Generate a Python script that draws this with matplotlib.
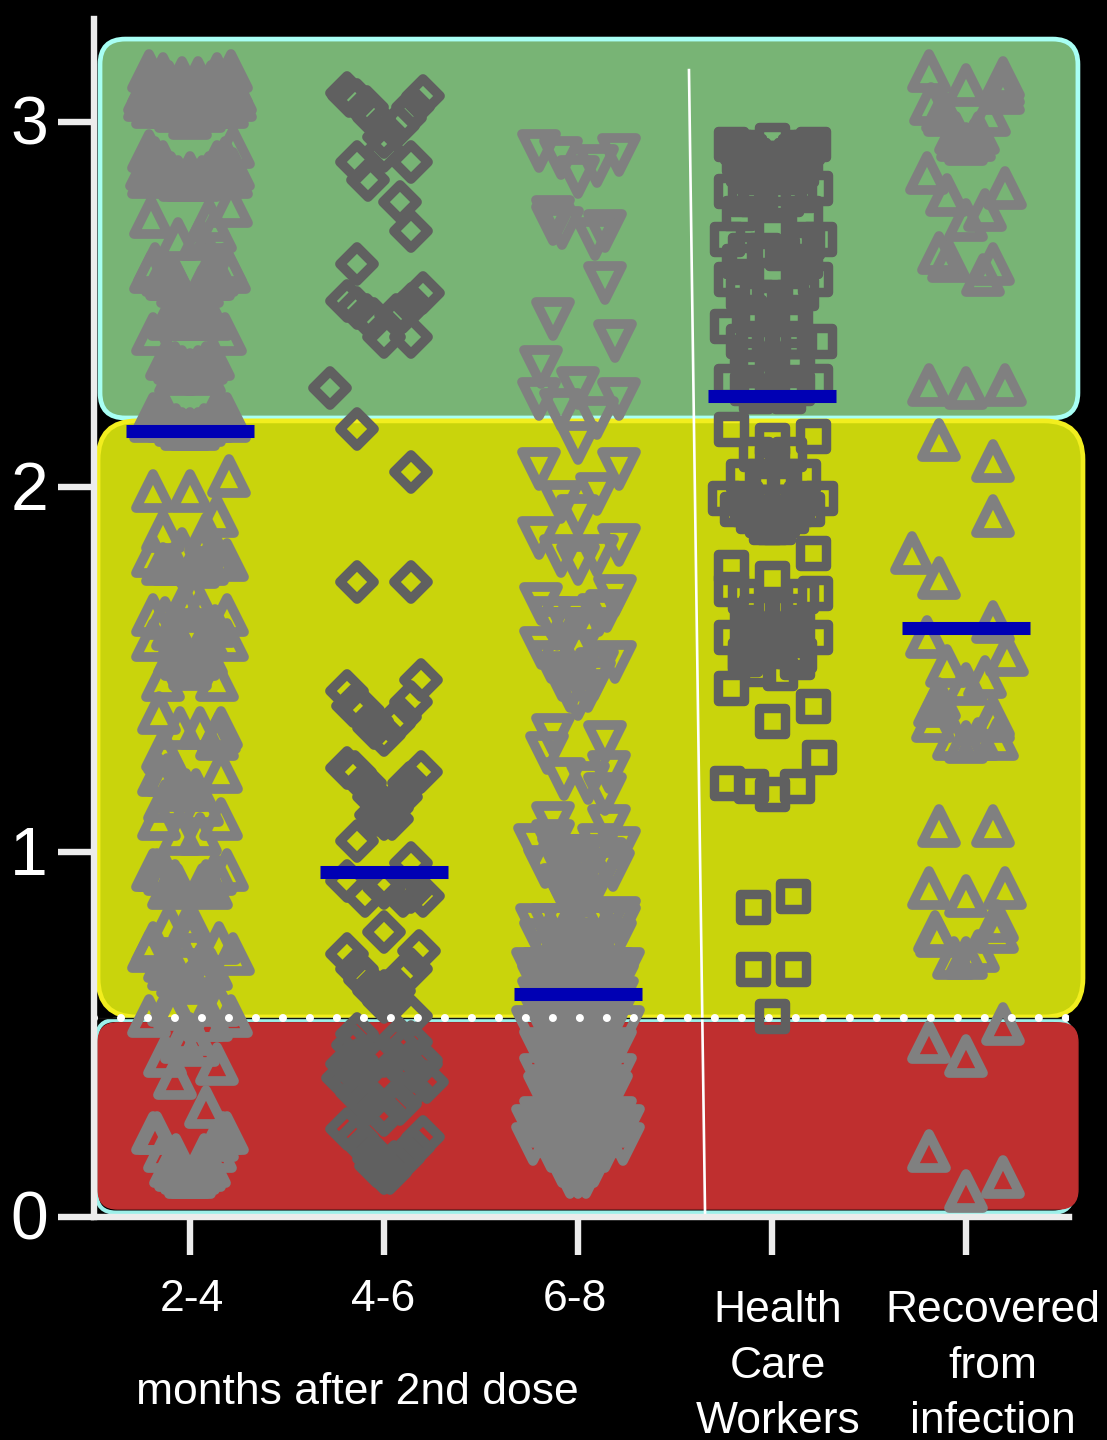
import matplotlib
matplotlib.use('Agg')
from matplotlib import pyplot as plt
from matplotlib.markers import MarkerStyle
from matplotlib.patches import FancyBboxPatch
from matplotlib.transforms import ScaledTranslation

plt.rcParams['font.family'] = ['Liberation Sans', 'DejaVu Sans']

# swarm values and horizontal offsets, one list pair per group
g1_val = [3.08,3.08,3.06,3.06,3.14,3.14,3.10,3.10,3.09,3.09,3.06,3.06,3.04,3.04,3.13,3.13,3.09,3.09,3.05,3.05,
    3.11,3.11,3.07,3.07,3.04,3.04,3.12,3.12,3.08,3.08,3.05,3.05,3.03,3.03,3.01,
    2.92,2.93,2.90,2.90,2.89,2.89,2.87,2.87,2.85,2.85,2.86,2.86,2.85,2.85,2.84,2.84,2.86,2.84,2.84,
    2.74,2.77,2.73,2.68,2.68,2.70,
    2.61,2.61,2.59,2.59,2.58,2.58,2.57,2.57,2.57,2.57,2.55,2.55,2.57,2.57,
    2.42,2.42,2.47,2.47,2.48,2.46,2.46,2.46,2.46,
    2.35,2.35,2.34,2.34,2.33,2.33,2.32,2.31,2.31,
    2.21,2.21,2.20,2.20,2.18,2.18,2.17,2.17,2.16,2.16,2.16,2.18,2.18,
    1.99,1.99,2.03,1.88,1.92,
    1.81,1.79,1.79,1.80,1.81,1.79,1.83,1.78,1.87,1.83,
    1.65,1.58,1.64,1.61,1.58,1.68,1.70,1.65,1.58,1.62,1.59,1.66,
    1.54,1.54,1.53,1.53,1.50,1.52,1.47,1.47,
    1.38,1.34,1.34,1.34,1.33,
    1.28,1.27,1.31,1.22,1.21,1.21,1.18,1.17,1.17,
    1.14,1.13,1.09,1.09,1.05,1.05,
    .95,.95,.95,.94,.94,.92,.92,.91,.91,.90,.90,
    .80,.81,.77,.73,.75,.72,.75,.70,.72,.69,.68,.66,.66,.64,.68,
    .55,.55,.58,.58,.54,.54,.57,
    .44,.42,.48,.47,.50,
    .38,.30,.23,.23,.23,.23,.21,.18,.18,.17,.17,.14,.14,.13,.13,.12,.12,.11,.11,.11]
g1_off = [-.23,.23,-.23,.23,-.21,.21,-.21,.21,-.19,.19,-.19,.19,-.19,.19,-.14,.14,-.14,.14,-.14,.14,
    -.11,.11,-.11,.11,-.11,.11,-.04,.04,-.04,.04,-.07,.07,-.07,.07,0,
    -.21,.22,-.18,.18,-.14,.14,-.22,.22,-.21,.21,-.10,.10,-.06,.06,-.02,.02,0,-.05,.05,
    -.20,.21,.10,-.06,.05,.13,
    -.18,.18,-.20,.20,-.14,.14,-.12,.12,-.08,.08,-.06,.06,-.11,.11,
    -.19,.18,-.07,.07,0,-.11,.11,-.03,.03,
    -.12,.12,-.08,.08,-.04,.04,0,-.07,.07,
    -.14,.14,-.19,.19,-.12,.12,-.07,.07,0,-.04,.04,-.20,.20,
    -.19,0,.20,-.14,.14,
    -.19,-.14,-.09,.19,.13,.09,.06,.04,.08,-.04,
    -.19,-.19,-.13,-.09,-.06,-.03,.02,.19,.19,.13,.08,.05,
    -.08,.08,-.04,.04,0,0,-.14,.14,
    -.16,-.05,.05,.16,.15,
    -.14,-.13,.14,.16,-.16,-.12,-.06,.03,-.02,
    -.13,.06,-.16,.16,-.05,.05,
    -.19,-.17,.19,-.13,.13,-.08,.08,-.06,.06,-.11,.11,
    -.11,0,0,-.21,-.19,.22,.15,-.13,-.04,.05,-.11,-.06,.06,0,.11,
    -.21,.21,-.11,.15,.07,.11,-.08,
    -.13,.14,-.04,.04,0,
    -.08,.08,-.19,-.17,.19,.17,.14,-.13,.13,-.07,.07,-.10,.10,-.07,.07,-.04,.04,0,-.02,.02]

g2_val = [3.08,3.07,3.06,3.04,3.01,2.96,2.99,3.01,3.04,3.07,2.89,2.89,2.84,2.92,2.78,2.70,2.61,
    2.51,2.49,2.47,2.46,2.41,2.41,2.53,2.50,2.48,2.47,2.27,2.16,2.04,1.74,1.74,
    1.44,1.40,1.39,1.36,1.34,1.32,1.35,1.37,1.41,1.47,
    1.23,1.22,1.19,1.15,1.12,1.10,1.09,1.12,1.15,1.19,1.22,1.09,
    1.03,.97,.92,.88,.90,.88,.88,.89,.78,
    .72,.73,.68,.65,.62,.59,.62,.66,.68,.62,.55,.50,
    .38,.37,.47,.48,.48,.44,.43,.45,.43,.37,.40,.38,.34,.35,.31,.29,.31,.28,.42,.42,.40,.41,
    .24,.22,.19,.22,.19,.16,.16,.12,.15,.14,.14,.12]
g2_off = [-.19,-.18,-.14,-.09,-.05,0,.07,.11,.15,.20,-.14,.14,-.08,0,.08,.14,-.14,
    -.19,-.14,-.09,-.05,0,.14,.20,.14,.10,.06,-.28,-.14,.14,-.14,.14,
    -.19,-.16,-.11,-.06,-.05,0,.05,.08,.14,.19,
    -.19,-.15,-.10,-.05,0,-.04,0,.04,.09,.13,.19,.04,
    -.14,.14,-.19,-.10,0,.10,.20,.14,0,
    -.19,.18,-.14,-.10,-.05,0,.05,.10,.14,0,.14,-.14,
    -.21,.22,-.16,.14,.06,0,-.14,-.05,.19,-.17,.15,0,-.14,.14,-.08,0,.08,0,-.19,.19,-.10,.08,
    -.19,-.14,-.09,.20,.15,.10,-.05,0,.05,-.04,0,.03]

g3_val = [2.92,2.90,2.85,2.88,2.91,2.74,2.72,2.71,2.68,2.70,2.56,2.46,2.40,2.33,2.27,2.24,2.24,2.21,2.19,2.12,
    2.05,2.05,1.96,1.98,1.92,1.86,1.84,1.81,1.81,1.79,
    1.68,1.70,1.64,1.61,1.65,1.66,1.64,1.61,1.61,1.55,1.56,1.52,1.52,1.49,1.50,1.48,1.44,1.44,1.42,1.47,1.47,
    1.32,1.30,1.27,1.20,1.19,1.22,1.16,
    1.08,1.07,1.02,1.01,.96,.95,1.03,.99,.95,.99,.95,.99,1.02,.98,.91,.91,.97,.88,.90,.88,.87,
    .80,.80,.80,.80,.80,.80,.82,
    .76,.76,.76,.76,.76,.76,.76,
    .72,.72,.72,.72,.72,.72,
    .68,.68,.68,.68,
    .66,.66,.66,.66,.66,
    .64,.64,.64,.64,.64,.64,.64,.64,
    .59,.59,.59,.59,.59,.59,
    .57,.57,.52,.52,
    .50,.50,.50,.50,.50,
    .46,.46,.46,.46,.46,.46,
    .42,.42,.42,.42,.39,.39,
    .36,.36,.36,.36,.36,
    .32,.32,.32,.32,.29,.29,
    .25,.25,.20,.20,.22,.22,.21,.21,.20,.20,.18,.18,.18,.18,.17,.17,
    .14,.14,.14,.14,.11,.11,.11,
    .55,.55,.55,.55,.55,.60,.60,.60,.60,.60,.45,.45,.45,.40,.40,.40,.40,
    .34,.34,.34,.30,.30,.30,.27,.27,.27,.27,.27,.27,.25,.25,.25,.25,.25,.25,.25,.22,.22,.22,.22,.22]
g3_off = [-.20,-.09,0,.10,.21,-.13,-.13,-.08,.09,.14,.14,-.13,.19,-.19,0,-.20,.21,-.09,.10,0,
    -.20,.21,-.09,.10,0,-.20,.21,-.09,.10,0,
    -.19,.19,-.14,-.11,.11,.15,0,-.04,.05,0,-.19,.19,-.14,-.09,.10,0,-.04,.05,0,-.08,.08,
    -.13,.14,-.16,-.07,.05,.16,.14,
    -.13,.16,-.22,.21,-.17,.18,-.13,-.10,-.07,-.04,.04,.07,.11,.14,-.09,.09,0,0,-.04,.04,-.05,
    -.21,-.14,-.07,.07,.14,.21,.21,
    -.19,.19,-.12,.12,-.06,.06,0,
    -.15,.15,-.09,.09,-.03,.03,
    -.23,.23,-.18,.18,
    -.12,.12,-.06,.06,0,
    -.20,.20,-.14,.14,-.08,.08,-.03,.03,
    -.15,.15,-.10,.10,-.04,.04,
    -.20,.20,-.23,.23,
    -.14,.14,-.07,.07,0,
    -.19,.19,-.12,.12,-.05,.05,
    -.10,.10,-.03,.03,-.19,.19,
    -.14,.14,-.07,.07,0,
    -.10,.10,-.04,.04,-.07,.07,
    -.23,.23,-.23,.23,-.18,.18,-.14,.14,-.11,.11,-.08,.08,-.14,.14,-.05,.05,
    -.03,.03,-.08,.08,-.04,.04,0,
    -.18,.18,-.10,.10,0,-.20,.20,-.10,.10,0,-.15,.15,0,-.12,.12,-.04,.04,
    -.17,.17,0,-.12,.12,0,-.19,.19,-.10,.10,-.03,.03,-.18,.18,-.12,.12,-.06,.06,0,-.12,.12,-.06,.06,0]

g4_val = [2.94,2.94,2.93,2.93,2.91,2.91,2.90,2.90,2.88,2.88,2.88,2.87,2.87,2.95,
    2.81,2.82,2.79,2.80,2.82,2.79,2.79,2.78,
    2.68,2.68,2.65,2.65,2.64,2.66,2.67,2.70,
    2.57,2.57,2.53,2.53,2.58,2.52,2.52,2.52,
    2.44,2.40,2.40,2.47,2.46,2.46,2.40,2.40,2.40,2.40,
    2.29,2.29,2.32,2.33,2.33,2.27,2.27,2.26,2.25,2.25,
    2.16,2.13,2.14,2.09,2.09,2.03,2.03,2.03,2.03,2.07,
    1.97,1.97,1.97,1.97,1.96,1.96,1.96,
    1.94,1.94,1.94,1.94,1.92,1.92,1.91,1.91,1.89,1.89,1.89,
    1.82,1.78,1.75,1.72,1.71,1.70,1.70,1.67,1.66,1.66,
    1.59,1.59,1.62,1.62,1.60,1.60,1.61,1.58,1.58,1.58,1.58,1.55,1.55,1.55,1.54,1.54,
    1.49,1.50,1.52,1.53,
    1.45,1.40,1.36,1.26,1.19,1.18,1.16,1.18,.85,.88,.68,.68,.55,
    2.93,2.93,2.92,2.92,2.90,2.90,2.89,2.89,2.87,2.87,2.86,2.85,2.85,
    2.75,2.75,2.62,2.62,2.48,2.48,2.36,2.36]
g4_off = [-.21,.21,-.15,.15,-.10,.10,-.05,.05,0,-.12,.12,-.05,.05,0,
    -.21,.22,-.14,.14,0,-.09,.07,0,
    -.23,.24,-.14,-.04,.05,.14,.18,0,
    -.21,.22,-.15,.15,0,-.07,.10,0,
    -.23,.24,-.15,0,.09,-.07,.14,0,-.08,.08,
    -.21,.22,-.08,.10,0,-.13,.13,0,-.08,.08,
    -.21,0,.21,-.08,.09,-.15,.16,-.05,.06,0,
    -.24,.25,-.14,.15,-.05,.05,0,
    -.18,.18,-.13,.13,-.10,.10,-.05,.05,-.03,.03,0,
    .21,-.21,0,-.21,.22,-.14,.15,0,-.08,.08,
    -.21,.22,-.13,.13,-.08,.08,0,-.10,.10,-.04,.04,0,-.10,.10,-.14,.14,
    .04,-.07,.13,-.14,
    -.21,.21,0,.24,-.23,-.11,0,.13,-.10,.11,-.10,.11,0,
    -.18,.18,-.12,.12,-.17,.17,-.08,.08,-.15,.15,0,-.10,.10,
    -.17,.17,-.17,.17,-.12,.12,-.13,.13]

g5_val = [3.14,3.10,3.12,3.10,3.05,3.08,3.03,3.02,3.02,2.94,2.95,2.95,2.97,2.97,
    2.86,2.80,2.82,2.73,2.76,2.64,2.62,2.61,2.58,
    2.28,2.27,2.28,2.13,2.07,1.92,1.82,1.75,1.63,1.59,1.54,1.51,1.48,1.46,1.42,1.40,1.36,1.37,1.36,
    1.31,1.31,1.31,1.30,1.07,1.07,.90,.88,.90,.78,.77,.81,.78,.71,.73,.71,
    .53,.48,.44,.18,.11,.07]
g5_off = [-.19,0,.19,.19,-.18,.19,-.12,-.11,.12,0,-.04,.04,-.05,.06,
    -.20,-.10,.20,0,.10,-.14,-.09,.14,.09,
    -.19,0,.20,-.14,.14,.14,-.28,-.14,.14,-.20,.21,-.10,.10,0,-.14,-.16,-.17,.14,.14,
    -.06,.16,.06,0,-.14,.14,-.19,0,.20,-.16,-.15,.16,.16,-.06,.06,0,
    .19,-.19,0,-.19,.19,0]

medians = [2.153, .945, .61, 2.25, 1.614]
positions = [0, 1, 2, 3, 4]
group_labels = ['2-4', '4-6', '6-8', 'Health\nCare\nWorkers', 'Recovered\nfrom\ninfection']
y_ticks = [0, 1, 2, 3]
cutoff = .545

tri_col = '#808080'
box_col = '#606060'

fig = plt.figure(figsize=(11.07, 14.4), dpi=100, facecolor='black')
ax = fig.add_axes([94/1107, 223/1440, 975/1107, 1198/1440], facecolor='black')
ax.set_xlim(-.495, 4.531)
ax.set_ylim(0, 3.282)

#coloured bands behind the points
aspect = 194 / 365
def band(x0, x1, y0, y1, face, edge, lw, r):
    ax.add_patch(FancyBboxPatch((x0, y0), x1-x0, y1-y0, boxstyle='round,pad=0,rounding_size=%f' % r,
                                mutation_aspect=aspect, facecolor=face, edgecolor=edge, linewidth=lw,
                                clip_on=False, zorder=1))

band(-.464, 4.577, 2.189, 3.227, '#78b475', '#a8fff4', 3.4, .13)
band(-.474, 4.603, .548, 2.181, '#c9d40c', '#f2ee1e', 3.4, .2)
band(-.482, 4.55, .012, .54, 'none', '#9df0ea', 3, .1)
band(-.474, 4.577, .022, .532, '#bf2f2f', '#bf2f2f', 1, .1)

#white divider and the dark line under the cutoff dots
ax.plot([2.572, 2.655], [3.142, .005], color='white', lw=1.9, zorder=2)
ax.plot([-.495, 4.515], [cutoff, cutoff], color='#111111', lw=1, zorder=2)

#points
def swarm(pos, offs, vals, marker, col, ms, mew):
    ax.plot([pos + o for o in offs], vals, ls='none', marker=MarkerStyle(marker, joinstyle='round'),
            mfc='none', mec=col, ms=ms, mew=mew, zorder=3, clip_on=False)

swarm(positions[0], g1_off, g1_val, '^', tri_col, 24, 7)
swarm(positions[1], g2_off, g2_val, 'D', box_col, 17.6, 7)
swarm(positions[2], g3_off, g3_val, 'v', tri_col, 24, 7)
swarm(positions[3], g4_off, g4_val, 's', box_col, 19.2, 6.8)
swarm(positions[4], g5_off, g5_val, '^', tri_col, 24, 7)

#median bars
ax.hlines(medians, [p - .33 for p in positions], [p + .33 for p in positions],
          colors='#0000b4', lw=9.4, zorder=4, capstyle='butt')

#cutoff dots
ax.plot([-.495, 4.515], [cutoff, cutoff], color='white', lw=5.8,
        linestyle=(0, (.001, 3.35)), dash_capstyle='round', zorder=5)

#axes
for side in ['top', 'right']:
    ax.spines[side].set_visible(False)
for side in ['left', 'bottom']:
    ax.spines[side].set_linewidth(4.6)
    ax.spines[side].set_color('#ececec')
    ax.spines[side].set_zorder(6)
ax.set_yticks(y_ticks)
ax.set_xticks(positions)
ax.set_xticklabels([])
ax.tick_params(axis='y', length=26, width=4.6, color='#ececec', labelcolor='white', labelsize=49, pad=7)
ax.tick_params(axis='x', length=27, width=4.6, color='#ececec')
for lab in ax.get_yticklabels():
    lab.set_transform(lab.get_transform() + ScaledTranslation(0, .02, fig.dpi_scale_trans))

#group labels
for p, lab, dx in zip(positions[:3], group_labels[:3], [.01, -.005, -.015]):
    ax.text(p + dx, -.227, lab, color='white', fontsize=32, ha='center', va='center')
ax.text(3.03, -.2, group_labels[3], color='white', fontsize=32, ha='center', va='top', linespacing=1.46)
ax.text(4.14, -.2, group_labels[4], color='white', fontsize=32, ha='center', va='top', linespacing=1.46)
ax.text(.864, -.481, 'months after 2nd dose', color='white', fontsize=32, ha='center', va='center')

fig.savefig('out.png', dpi=100, facecolor='black')
